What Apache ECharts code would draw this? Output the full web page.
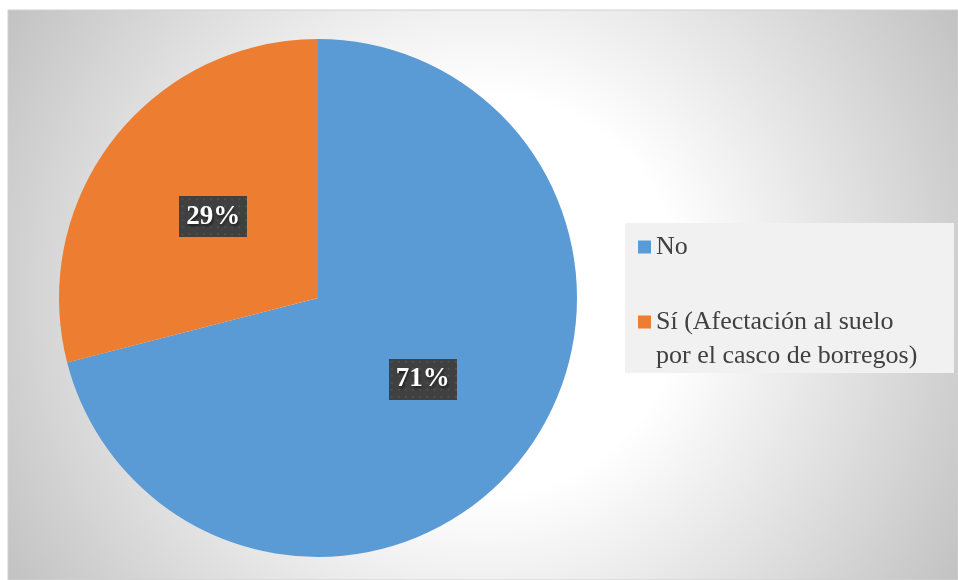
<!DOCTYPE html>
<html>
<head>
<meta charset="utf-8">
<script src="https://cdn.jsdelivr.net/npm/echarts@6/dist/echarts.min.js"></script>
<style>
  html, body { margin: 0; padding: 0; background: #ffffff; }
  #chart { width: 958px; height: 580px; }
</style>
</head>
<body>
<div id="chart"></div>
<script>
var categories = ['No', 'Sí (Afectación al suelo por el casco de borregos)'];
var values = [71, 29];
var colors = ['#5b9bd5', '#ed7d31'];

// dotted dark texture for the data labels
var makeTexture = function () {
    var c = document.createElement('canvas');
    c.width = 67;
    c.height = 41;
    var ctx = c.getContext('2d');
    ctx.fillStyle = '#404040';
    ctx.fillRect(0, 0, c.width, c.height);
    ctx.fillStyle = '#4f4f4f';
    for (var y = 2; y < c.height; y += 7) {
        for (var x = 2; x < c.width; x += 7) {
            ctx.fillRect(x, y, 2, 2);
        }
    }
    return c;
};

var pieData = [];
for (var i = 0; i < categories.length; i++) {
    pieData.push({ name: categories[i], value: values[i], itemStyle: { color: colors[i] } });
}

var myChart = echarts.init(document.getElementById('chart'));
myChart.setOption({
    animation: false,
    graphic: [{
        type: 'rect',
        z: -10,
        shape: { x: 8, y: 10, width: 950, height: 570 },
        style: {
            fill: {
                type: 'radial', x: 0.5, y: 0.5, r: 0.97,
                colorStops: [
                    { offset: 0, color: '#ffffff' },
                    { offset: 0.36, color: '#ffffff' },
                    { offset: 1, color: '#c2c2c2' }
                ]
            },
            stroke: '#d0d0d0',
            lineWidth: 1
        }
    }],
    legend: {
        orient: 'vertical',
        left: 625,
        top: 223,
        padding: [7, 0, 0, 13],
        itemGap: 7,
        itemWidth: 13,
        itemHeight: 13,
        icon: 'rect',
        backgroundColor: '#f1f1f1',
        selectedMode: false,
        // the icon sits on the first line of a wrapped name, so lead with a blank line
        formatter: function (name) {
            return name === categories[0] ? name : '\n' + name;
        },
        textStyle: {
            fontFamily: 'Liberation Serif',
            fontSize: 26,
            color: '#404040',
            lineHeight: 34,
            width: 298,
            overflow: 'break'
        },
        data: categories
    },
    series: [{
        type: 'pie',
        center: [318, 298],
        radius: 259,
        startAngle: 90,
        clockwise: true,
        silent: true,
        itemStyle: { borderWidth: 0 },
        label: {
            show: true,
            position: 'inside',
            formatter: '{d}%',
            fontFamily: 'Liberation Serif',
            fontWeight: 'bold',
            fontSize: 27,
            lineHeight: 31,
            color: '#ffffff',
            textShadowColor: 'rgba(0,0,0,0.6)',
            textShadowBlur: 3,
            textShadowOffsetX: 1,
            textShadowOffsetY: 2,
            backgroundColor: { image: makeTexture() },
            padding: [5, 7, 5, 7],
            shadowColor: 'rgba(0,0,0,0.55)',
            shadowBlur: 7,
            shadowOffsetX: 4,
            shadowOffsetY: 4
        },
        labelLine: { show: false },
        data: pieData
    }]
});
</script>
</body>
</html>
